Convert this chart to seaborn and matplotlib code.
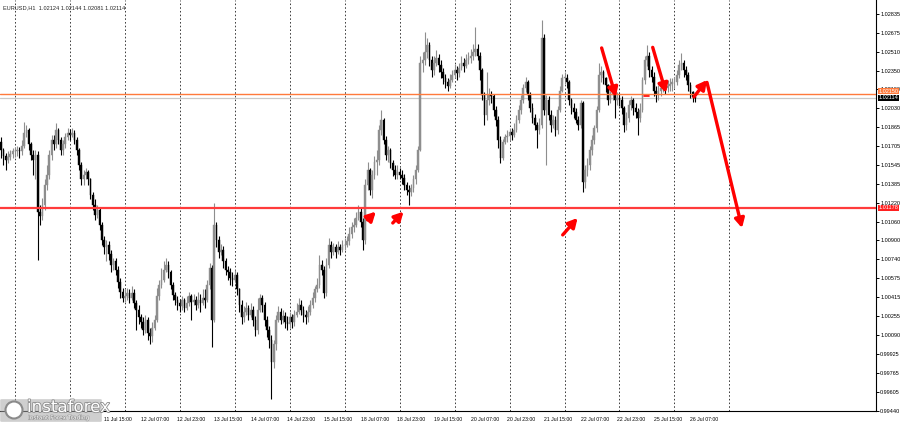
import numpy as np
import pandas as pd
import matplotlib
matplotlib.use("Agg")
import matplotlib.pyplot as plt
import matplotlib.transforms as mtransforms
import matplotlib.patheffects as pe
from matplotlib import font_manager
from matplotlib.patches import FancyBboxPatch, Ellipse
import seaborn as sns

symbol = "EURUSD,H1"
days = ["7 Jul", "8 Jul", "11 Jul", "12 Jul", "13 Jul", "14 Jul", "15 Jul",
        "18 Jul", "19 Jul", "20 Jul", "21 Jul", "22 Jul", "25 Jul", "26 Jul"]
first_hour = 18
first_open = 1.0174

# hourly closes, one row per trading day
closes = [
    1.0167, 1.0162, 1.0159, 1.0161, 1.0164, 1.0166,
    1.0166, 1.0167, 1.0166, 1.0171, 1.0182, 1.0184, 1.0172, 1.0163, 1.0159, 1.0163, 1.0114, 1.0111,
    1.0120, 1.0137, 1.0146, 1.0163, 1.0176, 1.0172, 1.0184, 1.0176, 1.0167, 1.0172, 1.0178, 1.0182,
    1.0180, 1.0182, 1.0176, 1.0167, 1.0154, 1.0142, 1.0146, 1.0148, 1.0142, 1.0129, 1.0120, 1.0112,
    1.0116, 1.0103, 1.0090, 1.0084, 1.0086, 1.0078, 1.0069, 1.0072, 1.0065, 1.0054, 1.0046, 1.0041,
    1.0042, 1.0045, 1.0041, 1.0045, 1.0036, 1.0030, 1.0024, 1.0020, 1.0013, 1.0022, 1.0011, 1.0008,
    1.0015, 1.0022, 1.0042, 1.0052, 1.0056, 1.0065, 1.0069, 1.0063, 1.0052, 1.0043, 1.0039, 1.0036,
    1.0034, 1.0039, 1.0032, 1.0036, 1.0042, 1.0037, 1.0039, 1.0035, 1.0039, 1.0036, 1.0041, 1.0039,
    1.0052, 1.0066, 1.0022, 1.0103, 1.0090, 1.0080, 1.0082, 1.0072, 1.0065, 1.0063, 1.0058, 1.0056,
    1.0060, 1.0048, 1.0035, 1.0024, 1.0029, 1.0032, 1.0026, 1.0030, 1.0022, 1.0013, 1.0030, 1.0041,
    1.0035, 1.0022, 1.0013, 1.0005, 0.9986, 1.0001, 1.0022, 1.0029, 1.0022, 1.0025, 1.0020, 1.0018,
    1.0024, 1.0020, 1.0026, 1.0029, 1.0035, 1.0030, 1.0026, 1.0024, 1.0029, 1.0035, 1.0041, 1.0048,
    1.0052, 1.0069, 1.0065, 1.0045, 1.0069, 1.0086, 1.0080, 1.0084, 1.0080, 1.0084, 1.0082, 1.0086,
    1.0086, 1.0089, 1.0095, 1.0101, 1.0103, 1.0109, 1.0114, 1.0106, 1.0090, 1.0137, 1.0150, 1.0133,
    1.0146, 1.0157, 1.0159, 1.0184, 1.0193, 1.0176, 1.0163, 1.0167, 1.0156, 1.0150, 1.0146, 1.0148,
    1.0146, 1.0143, 1.0137, 1.0133, 1.0131, 1.0135, 1.0142, 1.0150, 1.0167, 1.0242, 1.0244, 1.0251,
    1.0257, 1.0244, 1.0236, 1.0242, 1.0246, 1.0240, 1.0234, 1.0229, 1.0225, 1.0222, 1.0227, 1.0231,
    1.0236, 1.0233, 1.0237, 1.0242, 1.0239, 1.0244, 1.0246, 1.0248, 1.0251, 1.0254, 1.0248, 1.0236,
    1.0214, 1.0197, 1.0210, 1.0214, 1.0213, 1.0201, 1.0193, 1.0176, 1.0160, 1.0174, 1.0178, 1.0179,
    1.0183, 1.0180, 1.0184, 1.0193, 1.0201, 1.0210, 1.0220, 1.0225, 1.0214, 1.0203, 1.0195, 1.0189,
    1.0184, 1.0189, 1.0263, 1.0201, 1.0210, 1.0197, 1.0189, 1.0193, 1.0184, 1.0201, 1.0218, 1.0229,
    1.0229, 1.0225, 1.0210, 1.0203, 1.0200, 1.0193, 1.0189, 1.0207, 1.0140, 1.0150, 1.0154, 1.0167,
    1.0176, 1.0186, 1.0201, 1.0231, 1.0234, 1.0229, 1.0223, 1.0210, 1.0214, 1.0218, 1.0210, 1.0212,
    1.0210, 1.0203, 1.0189, 1.0195, 1.0206, 1.0210, 1.0203, 1.0200, 1.0195, 1.0201, 1.0227, 1.0244,
    1.0248, 1.0236, 1.0230, 1.0218, 1.0214, 1.0218, 1.0220, 1.0223, 1.0220, 1.0222, 1.0224, 1.0225,
    1.0225, 1.0231, 1.0240, 1.0242, 1.0236, 1.0231, 1.0223, 1.0217, 1.02124, 1.02114,
]

highs = [
    1.0178, 1.0169, 1.0165, 1.0166, 1.0167, 1.0169,
    1.0170, 1.0171, 1.0170, 1.0176, 1.0191, 1.0189, 1.0186, 1.0174, 1.0167, 1.0167, 1.0166, 1.0120,
    1.0126, 1.0142, 1.0154, 1.0167, 1.0180, 1.0180, 1.0190, 1.0186, 1.0178, 1.0176, 1.0182, 1.0186,
    1.0185, 1.0186, 1.0184, 1.0178, 1.0169, 1.0157, 1.0150, 1.0152, 1.0150, 1.0143, 1.0131, 1.0125,
    1.0120, 1.0118, 1.0106, 1.0094, 1.0090, 1.0089, 1.0082, 1.0075, 1.0075, 1.0068, 1.0058, 1.0049,
    1.0048, 1.0049, 1.0048, 1.0051, 1.0048, 1.0039, 1.0035, 1.0027, 1.0024, 1.0026, 1.0024, 1.0015,
    1.0020, 1.0026, 1.0049, 1.0056, 1.0066, 1.0072, 1.0075, 1.0072, 1.0065, 1.0054, 1.0046, 1.0042,
    1.0040, 1.0042, 1.0041, 1.0042, 1.0046, 1.0044, 1.0044, 1.0042, 1.0046, 1.0044, 1.0048, 1.0048,
    1.0056, 1.0071, 1.0069, 1.0122, 1.0106, 1.0094, 1.0087, 1.0085, 1.0075, 1.0068, 1.0066, 1.0063,
    1.0065, 1.0063, 1.0049, 1.0039, 1.0034, 1.0037, 1.0035, 1.0036, 1.0034, 1.0025, 1.0041, 1.0044,
    1.0043, 1.0037, 1.0025, 1.0017, 1.0009, 1.0005, 1.0026, 1.0034, 1.0032, 1.0030, 1.0029, 1.0025,
    1.0029, 1.0027, 1.0030, 1.0036, 1.0041, 1.0039, 1.0034, 1.0030, 1.0034, 1.0039, 1.0046, 1.0051,
    1.0058, 1.0077, 1.0073, 1.0068, 1.0075, 1.0092, 1.0089, 1.0088, 1.0087, 1.0089, 1.0087, 1.0090,
    1.0092, 1.0094, 1.0101, 1.0106, 1.0109, 1.0114, 1.0120, 1.0118, 1.0109, 1.0142, 1.0157, 1.0152,
    1.0150, 1.0162, 1.0167, 1.0189, 1.0201, 1.0195, 1.0179, 1.0171, 1.0169, 1.0159, 1.0154, 1.0154,
    1.0152, 1.0150, 1.0147, 1.0140, 1.0137, 1.0138, 1.0146, 1.0154, 1.0171, 1.0248, 1.0251, 1.0268,
    1.0263, 1.0260, 1.0248, 1.0248, 1.0253, 1.0249, 1.0244, 1.0237, 1.0232, 1.0229, 1.0232, 1.0236,
    1.0241, 1.0239, 1.0242, 1.0248, 1.0246, 1.0249, 1.0251, 1.0254, 1.0258, 1.0272, 1.0258, 1.0251,
    1.0237, 1.0217, 1.0234, 1.0220, 1.0218, 1.0215, 1.0205, 1.0196, 1.0179, 1.0177, 1.0181, 1.0184,
    1.0186, 1.0186, 1.0190, 1.0197, 1.0206, 1.0214, 1.0224, 1.0230, 1.0227, 1.0217, 1.0207, 1.0198,
    1.0191, 1.0195, 1.0278, 1.0266, 1.0214, 1.0213, 1.0201, 1.0197, 1.0196, 1.0205, 1.0222, 1.0232,
    1.0234, 1.0232, 1.0227, 1.0212, 1.0207, 1.0203, 1.0196, 1.0210, 1.0209, 1.0154, 1.0160, 1.0171,
    1.0180, 1.0189, 1.0205, 1.0242, 1.0239, 1.0236, 1.0230, 1.0224, 1.0218, 1.0222, 1.0220, 1.0217,
    1.0216, 1.0213, 1.0205, 1.0200, 1.0210, 1.0213, 1.0212, 1.0207, 1.0203, 1.0207, 1.0230, 1.0248,
    1.0257, 1.0251, 1.0239, 1.0234, 1.0222, 1.0223, 1.0224, 1.0227, 1.0225, 1.0227, 1.0229, 1.0229,
    1.0230, 1.0236, 1.0244, 1.0250, 1.0244, 1.0239, 1.0234, 1.0225, 1.0218, 1.02144,
]

lows = [
    1.0160, 1.0154, 1.0150, 1.0156, 1.0159, 1.0160,
    1.0161, 1.0162, 1.0160, 1.0163, 1.0169, 1.0178, 1.0167, 1.0159, 1.0146, 1.0142, 1.0073, 1.0103,
    1.0107, 1.0116, 1.0133, 1.0142, 1.0159, 1.0167, 1.0169, 1.0172, 1.0163, 1.0163, 1.0169, 1.0176,
    1.0176, 1.0178, 1.0172, 1.0163, 1.0150, 1.0137, 1.0137, 1.0142, 1.0137, 1.0125, 1.0116, 1.0107,
    1.0109, 1.0099, 1.0086, 1.0078, 1.0072, 1.0073, 1.0063, 1.0065, 1.0060, 1.0049, 1.0041, 1.0037,
    1.0037, 1.0039, 1.0036, 1.0039, 1.0032, 1.0013, 1.0018, 1.0015, 1.0009, 1.0011, 1.0005, 1.0001,
    1.0003, 1.0013, 1.0020, 1.0039, 1.0049, 1.0054, 1.0063, 1.0058, 1.0048, 1.0039, 1.0035, 1.0030,
    1.0029, 1.0030, 1.0029, 1.0030, 1.0034, 1.0022, 1.0035, 1.0030, 1.0032, 1.0029, 1.0035, 1.0032,
    1.0037, 1.0048, 0.9999, 1.0020, 1.0084, 1.0075, 1.0077, 1.0066, 1.0060, 1.0056, 1.0052, 1.0051,
    1.0054, 1.0043, 1.0029, 1.0018, 1.0020, 1.0026, 1.0022, 1.0024, 1.0017, 1.0008, 1.0010, 1.0029,
    1.0029, 1.0017, 1.0007, 0.9998, 0.9954, 0.9981, 0.9996, 1.0020, 1.0018, 1.0019, 1.0015, 1.0013,
    1.0015, 1.0015, 1.0017, 1.0024, 1.0027, 1.0026, 1.0020, 1.0018, 1.0020, 1.0026, 1.0032, 1.0037,
    1.0046, 1.0049, 1.0060, 1.0041, 1.0042, 1.0066, 1.0075, 1.0077, 1.0075, 1.0078, 1.0077, 1.0080,
    1.0082, 1.0084, 1.0086, 1.0092, 1.0097, 1.0101, 1.0107, 1.0101, 1.0082, 1.0087, 1.0133, 1.0129,
    1.0126, 1.0142, 1.0146, 1.0154, 1.0180, 1.0172, 1.0159, 1.0157, 1.0152, 1.0145, 1.0142, 1.0142,
    1.0142, 1.0138, 1.0133, 1.0129, 1.0120, 1.0128, 1.0131, 1.0138, 1.0148, 1.0166, 1.0234, 1.0240,
    1.0246, 1.0239, 1.0230, 1.0231, 1.0239, 1.0234, 1.0229, 1.0224, 1.0220, 1.0218, 1.0220, 1.0225,
    1.0229, 1.0227, 1.0230, 1.0236, 1.0234, 1.0237, 1.0241, 1.0242, 1.0244, 1.0248, 1.0244, 1.0227,
    1.0210, 1.0189, 1.0193, 1.0206, 1.0207, 1.0196, 1.0188, 1.0169, 1.0156, 1.0159, 1.0172, 1.0174,
    1.0176, 1.0176, 1.0178, 1.0183, 1.0190, 1.0198, 1.0207, 1.0217, 1.0210, 1.0200, 1.0190, 1.0184,
    1.0169, 1.0181, 1.0186, 1.0197, 1.0154, 1.0193, 1.0183, 1.0186, 1.0179, 1.0181, 1.0200, 1.0217,
    1.0224, 1.0220, 1.0206, 1.0198, 1.0195, 1.0190, 1.0184, 1.0186, 1.0131, 1.0135, 1.0145, 1.0150,
    1.0163, 1.0172, 1.0183, 1.0200, 1.0225, 1.0224, 1.0217, 1.0206, 1.0207, 1.0210, 1.0195, 1.0206,
    1.0205, 1.0198, 1.0183, 1.0184, 1.0191, 1.0201, 1.0197, 1.0195, 1.0180, 1.0191, 1.0200, 1.0224,
    1.0239, 1.0230, 1.0225, 1.0213, 1.0208, 1.0210, 1.0213, 1.0217, 1.0215, 1.0217, 1.0218, 1.0218,
    1.0220, 1.0223, 1.0229, 1.0236, 1.0230, 1.0227, 1.0218, 1.0212, 1.0208, 1.02081,
]

orange_level = 1.02150
bid_level = 1.02114
support_level = 1.01178
price_ticks = [1.02835, 1.02675, 1.02510, 1.02350, 1.02190, 1.02030, 1.01865,
               1.01705, 1.01545, 1.01385, 1.01220, 1.01060, 1.00900, 1.00740,
               1.00575, 1.00415, 1.00255, 1.00090, 0.99925, 0.99765, 0.99605, 0.99440]

# hand-drawn red arrows: (bar, price) start -> end
arrows = [
    ((160.0, 1.01074), (163.6, 1.01145)),
    ((171.0, 1.01048), (175.7, 1.01145)),
    ((245.2, 1.00946), (251.7, 1.01091)),
    ((262.2, 1.02545), (268.4, 1.02126)),
    ((284.5, 1.02550), (290.3, 1.02160)),
    ((302.5, 1.02126), (308.2, 1.02270)),
    ((308.2, 1.02250), (323.5, 1.01005)),
]
red_dash = ((280.8, 283.0), (1.0213, 1.0213))

# table of bars
times = []
for k, d in enumerate(days):
    for h in range(first_hour if k == 0 else 0, 24):
        times.append((d, h))
times = times[:len(closes)]

df = pd.DataFrame({
    "open": [first_open] + closes[:-1],
    "high": highs,
    "low": lows,
    "close": closes,
})
df["high"] = df[["high", "open", "close"]].max(axis=1)
df["low"] = df[["low", "open", "close"]].min(axis=1)
df["up"] = df["close"] >= df["open"]

sns.set_style("white")
installed = {f.name for f in font_manager.fontManager.ttflist}
if "Liberation Sans Narrow" in installed:
    small_font, fs = "Liberation Sans Narrow", 1.0
else:
    small_font, fs = "Liberation Sans", 0.82
plt.rcParams["font.family"] = [small_font, "DejaVu Sans"]

fig = plt.figure(figsize=(9, 4.24), dpi=100)
ax = fig.add_axes([0, 13 / 424, 876 / 900, 411 / 424])

bull, bear = "#8e8e8e", "#000000"
col = np.where(df["up"], bull, bear)
ax.vlines(df.index, df["low"], df["high"], colors=col, lw=0.8, zorder=3)
body = (df["close"] - df["open"]).abs().clip(lower=0.00003)
ax.bar(df.index, body, bottom=df[["open", "close"]].min(axis=1), width=0.72,
       color=col, edgecolor=col, linewidth=0.3, zorder=4)

# day separators
day_starts = [i for i, t in enumerate(times) if t[1] == 0]
day_starts.append(len(times) - 1 + 24 - times[-1][1])
for b in day_starts:
    ax.axvline(b, color="#3a3a3a", lw=0.7, ls=(0, (1.6, 2.2)), zorder=1)

ax.axhline(bid_level, color="#c8c8c8", lw=0.9, zorder=2)
ax.axhline(orange_level, color="#ff7a3c", lw=1.0, zorder=5)
ax.axhline(support_level, color="#ff3b3b", lw=1.6, zorder=5)

for (x0, y0), (x1, y1) in arrows:
    ax.annotate("", xy=(x1, y1), xytext=(x0, y0),
                arrowprops=dict(arrowstyle="-|>,head_length=0.6,head_width=0.32",
                                color="#ff0000", lw=2.4, shrinkA=0, shrinkB=0,
                                mutation_scale=9), zorder=6)
ax.plot(red_dash[0], red_dash[1], color="#ff0000", lw=1.2, zorder=6)

ax.set_xlim(-0.5, 382)
ax.set_ylim(0.99441, 1.02955)

ax.yaxis.tick_right()
ax.set_yticks(price_ticks)
ax.set_yticklabels([f"{v:.5f}" for v in price_ticks])
ax.tick_params(axis="y", direction="out", length=2, width=0.7, pad=1,
               labelsize=4.8 * fs, colors="black")

# time labels every 16 bars (the ones under the logo are hidden in the source)
tick_bars = list(range(45, len(times), 16))
ax.set_xticks(tick_bars)
ax.set_xticklabels([f"{times[b][0]} {times[b][1]:02d}:00" for b in tick_bars],
                   ha="left")
ax.tick_params(axis="x", direction="out", length=3, width=0.7, pad=1.5,
               labelsize=4.5 * fs, colors="black")

for s in ["top", "left"]:
    ax.spines[s].set_visible(False)
for s in ["right", "bottom"]:
    ax.spines[s].set_color("black")
    ax.spines[s].set_linewidth(0.8)

trans = mtransforms.blended_transform_factory(ax.transAxes, ax.transData)
box_fs = 4.8 * fs
ax.text(1.003, orange_level + 0.00003, f"{orange_level:.5f}", transform=trans,
        fontsize=box_fs, color="white", va="bottom", ha="left", clip_on=False,
        zorder=7, bbox=dict(boxstyle="square,pad=0.12", fc="#ff7a3c", ec="none"))
ax.text(1.003, bid_level + 0.00004, f"{bid_level:.5f}", transform=trans,
        fontsize=box_fs, color="white", va="center", ha="left", clip_on=False,
        zorder=8, bbox=dict(boxstyle="square,pad=0.12", fc="black", ec="none"))
ax.text(1.003, support_level, f"{support_level:.5f}", transform=trans,
        fontsize=box_fs, color="white", va="center", ha="left", clip_on=False,
        zorder=7, bbox=dict(boxstyle="square,pad=0.12", fc="#ff2020", ec="none"))

last = df.iloc[-1]
fig.text(3 / 900, 1 - 8 / 424,
         f"{symbol}  {last.open:.5f} {last.high:.5f} {last.low:.5f} {last.close:.5f}",
         fontsize=5 * fs, va="center", ha="left")

# instaforex logo in the lower-left corner
fig.patches.append(FancyBboxPatch((2 / 900, 3 / 424), 98 / 900, 21 / 424,
                                  boxstyle="round,pad=0.002", transform=fig.transFigure,
                                  fc="#a8a8a8", ec="none", alpha=0.55, zorder=10))
fig.patches.append(Ellipse((14 / 900, 1 - 410 / 424), 17 / 900, 17 / 424,
                           transform=fig.transFigure, fc="white", ec="#8a8a8a",
                           lw=1.5, zorder=11))
fig.text(27 / 900, 1 - 407 / 424, "instaforex", fontsize=12, color="white",
         family="DejaVu Sans", va="center", ha="left", zorder=12,
         path_effects=[pe.withStroke(linewidth=1.2, foreground="#8c8c8c")])
fig.text(28 / 900, 1 - 418 / 424, "Instant Forex Trading", fontsize=4.2,
         family="DejaVu Sans", color="white", va="center", ha="left", zorder=12,
         path_effects=[pe.withStroke(linewidth=0.8, foreground="#9a9a9a")])

fig.savefig("out.png", dpi=100)
